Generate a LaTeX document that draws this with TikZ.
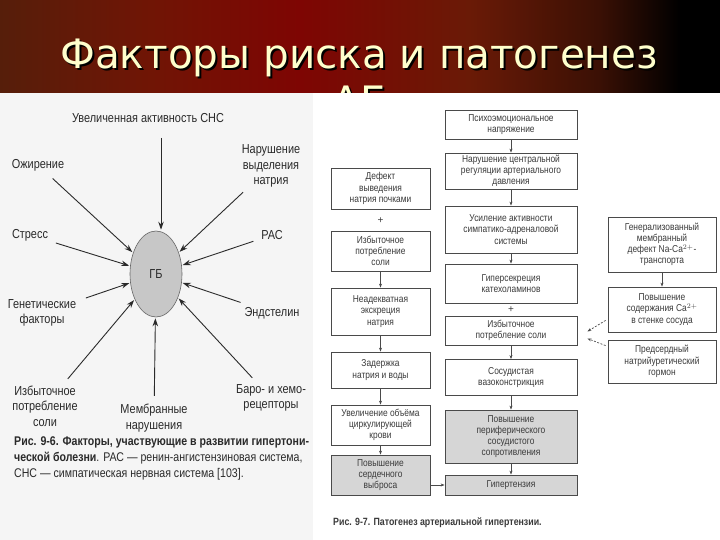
\documentclass[tikz,border=0pt]{standalone}
\usepackage{fontspec}
\usetikzlibrary{arrows.meta,shapes.geometric,calc}
\setmainfont{Liberation Sans}
\newfontfamily\titlef{DejaVu Sans}
\newfontfamily\narrowf[FakeStretch=0.84]{Liberation Sans}
\definecolor{titlecol}{HTML}{FFFFCC}
\definecolor{bgA}{HTML}{561E0A}
\definecolor{bgB}{HTML}{701505}
\definecolor{bgC}{HTML}{7E0503}
\definecolor{bgD}{HTML}{6A1A06}
\definecolor{bgE}{HTML}{3A1005}
\definecolor{inkL}{HTML}{2A2A2A}
\definecolor{inkR}{HTML}{3A3A3A}
\definecolor{boxcol}{HTML}{4A4A4A}
\newcommand{\shadowtext}[1]{\makebox[0pt][l]{\hspace{2pt}\raisebox{-2pt}{\textcolor{black}{#1}}}\textcolor{titlecol}{#1}}
\begin{document}
\begin{tikzpicture}[x=1pt,y=-1pt,
  lbl/.style={font=\narrowf\fontsize{13}{15.5}\selectfont, text=inkL, align=center, inner sep=2pt},
  bigarr/.style={draw=inkL, line width=0.9pt, -{Stealth[length=8pt,width=5.5pt]}, shorten <=3pt, shorten >=1pt},
  rbox/.style={draw=boxcol, line width=0.8pt, font=\narrowf\fontsize{10}{11.2}\selectfont, text=inkR, align=center, inner sep=1pt},
  dotbox/.style={rbox, fill=black!16},
  sarr/.style={draw=boxcol, line width=0.7pt, -{Stealth[length=4pt,width=3pt]}},
  darr/.style={draw=boxcol, line width=0.7pt, dashed, dash pattern=on 2pt off 1.5pt, -{Stealth[length=4pt,width=3pt]}},
  ttl/.style={anchor=base, inner sep=0pt, font=\titlef\fontsize{40.5}{46}\selectfont}
]
\useasboundingbox (0,0) rectangle (720,540);
% background
\shade[left color=bgA, right color=bgB] (0,0) rectangle (150,540);
\shade[left color=bgB, right color=bgC] (149.5,0) rectangle (300,540);
\shade[left color=bgC, right color=bgD] (299.5,0) rectangle (470,540);
\shade[left color=bgD, right color=bgE] (469.5,0) rectangle (600,540);
\shade[left color=bgE, right color=black] (599.5,0) rectangle (680,540);
\fill[black] (679.5,0) rectangle (720,540);
% title
\node[ttl] (title1) at (359,69) {\shadowtext{Факторы риска и патогенез}};
\node[ttl] (title2) at (359,116) {\shadowtext{АГ}};
% image panels
\fill[black!4] (0,93) rectangle (313,540);
\fill[white] (313,93) rectangle (720,540);

% ---------- left figure ----------
\node[ellipse, draw=black!60, line width=0.6pt, fill=black!22, minimum width=52pt, minimum height=86pt, inner sep=0pt,
      font=\narrowf\fontsize{13}{15}\selectfont, text=inkL] (gb) at (156,274) {ГБ};
\node[lbl] (snc) at (148,118) {Увеличенная активность СНС};
\node[lbl] (ozh) at (38,165) {Ожирение};
\node[lbl] (nar) at (271,166) {Нарушение\\выделения\\натрия};
\node[lbl] (str) at (30,235) {Стресс};
\node[lbl] (ras) at (272,235) {РАС};
\node[lbl] (gen) at (42,313) {Генетические\\факторы};
\node[lbl] (end) at (272,313) {Эндстелин};
\node[lbl] (izb) at (45,406) {Избыточное\\потребление\\соли};
\node[lbl] (mem) at (154,418) {Мембранные\\нарушения};
\node[lbl] (bar) at (271,398) {Баро- и хемо-\\рецепторы};

\draw[bigarr] (snc.south -| gb.north) ++(5,10) coordinate (sncs) -- (gb.north -| sncs);
\draw[bigarr, shorten <=8pt] (ozh) -- (gb);
\draw[bigarr, shorten <=4pt] (nar) -- (gb);
\draw[bigarr, shorten <=6pt] (str) -- (gb);
\draw[bigarr, shorten <=6pt] (ras) -- (gb);
\draw[bigarr, shorten <=8pt] (gen) -- (gb);
\draw[bigarr, shorten <=8pt] (end) -- (gb);
\draw[bigarr, shorten <=6pt] (izb) -- (gb);
\draw[bigarr, shorten <=6pt] (mem) -- (gb);
\draw[bigarr, shorten <=6pt] (bar) -- (gb);

\node[anchor=base west, align=left, inner sep=0pt, text=inkL, font=\narrowf\fontsize{12.6}{16}\selectfont] (cap1) at (14,477)
 {\textbf{Рис. 9-6. Факторы, участвующие в развитии гипертони-}\\
  \textbf{ческой болезни}. РАС — ренин-ангистензиновая система,\\
  СНС — симпатическая нервная система [103].};

% ---------- right figure ----------
% middle column
\node[rbox, minimum width=132pt, minimum height=29pt] (m1) at (511,124.5) {Психоэмоциональное\\напряжение};
\node[rbox, minimum width=132pt, minimum height=36pt] (m2) at (511,171) {Нарушение центральной\\регуляции артериального\\давления};
\node[rbox, minimum width=132pt, minimum height=47pt] (m3) at (511,229.5) {Усиление активности\\симпатико-адреналовой\\системы};
\node[rbox, minimum width=132pt, minimum height=39pt] (m4) at (511,283.5) {Гиперсекреция\\катехоламинов};
\node[inkR, font=\fontsize{10}{10}\selectfont] (plus2) at (511,310) {+};
\node[rbox, minimum width=132pt, minimum height=29pt] (m5) at (511,330.5) {Избыточное\\потребление соли};
\node[rbox, minimum width=132pt, minimum height=36pt] (m6) at (511,377.5) {Сосудистая\\вазоконстрикция};
\node[dotbox, minimum width=132pt, minimum height=53pt] (m7) at (511,436.5) {Повышение\\периферического\\сосудистого\\сопротивления};
\node[dotbox, minimum width=132pt, minimum height=20pt] (m8) at (511,485) {Гипертензия};
\draw[sarr] (m1) -- (m2);
\draw[sarr] (m2) -- (m3);
\draw[sarr] (m3) -- (m4);
\draw[sarr] (m5) -- (m6);
\draw[sarr] (m6) -- (m7);
\draw[sarr] (m7) -- (m8);

% left column
\node[rbox, minimum width=99pt, minimum height=41pt] (l1) at (380.5,188.5) {Дефект\\выведения\\натрия почками};
\node[inkR, font=\fontsize{10}{10}\selectfont] (plus1) at (380.5,221) {+};
\node[rbox, minimum width=99pt, minimum height=40pt] (l2) at (380.5,251) {Избыточное\\потребление\\соли};
\node[rbox, minimum width=99pt, minimum height=47pt] (l3) at (380.5,311.5) {Неадекватная\\экскреция\\натрия};
\node[rbox, minimum width=99pt, minimum height=36pt] (l4) at (380.5,370) {Задержка\\натрия и воды};
\node[rbox, minimum width=99pt, minimum height=40pt] (l5) at (380.5,425) {Увеличение объёма\\циркулирующей\\крови};
\node[dotbox, minimum width=99pt, minimum height=40pt] (l6) at (380.5,475) {Повышение\\сердечного\\выброса};
\draw[sarr] (l2) -- (l3);
\draw[sarr] (l3) -- (l4);
\draw[sarr] (l4) -- (l5);
\draw[sarr] (l5) -- (l6);
\draw[sarr] (m8.west -| l6.east) -- (m8.west);

% right column
\node[rbox, minimum width=108pt, minimum height=55pt] (r1) at (662,244.5) {Генерализованный\\мембранный\\дефект Na-Ca$^{2+}$-\\транспорта};
\node[rbox, minimum width=108pt, minimum height=45pt] (r2) at (662,309.5) {Повышение\\содержания Ca$^{2+}$\\в стенке сосуда};
\node[rbox, minimum width=108pt, minimum height=43pt] (r3) at (662,361.5) {Предсердный\\натрийуретический\\гормон};
\draw[sarr] (r1) -- (r2);
\draw[darr] ($(r2.south west)+(-2,-12)$) -- ($(m5.east)+(10,1)$);
\draw[darr] ($(r3.north west)+(-2,6)$) -- ($(m5.east)+(10,8)$);

\node[anchor=base west, inner sep=0pt, text=inkR, font=\narrowf\bfseries\fontsize{10.5}{12}\selectfont] (cap2) at (333,525)
 {Рис. 9-7. Патогенез артериальной гипертензии.};
\end{tikzpicture}
\end{document}
